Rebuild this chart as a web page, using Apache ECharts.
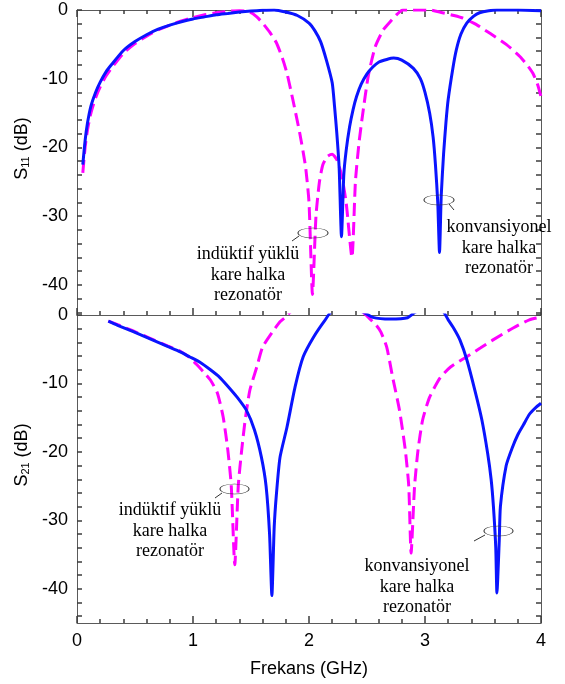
<!DOCTYPE html>
<html><head><meta charset="utf-8">
<script src="https://cdn.jsdelivr.net/npm/echarts@6/dist/echarts.min.js"></script>
<style>html,body{margin:0;padding:0;background:#fff}#c{width:565px;height:684px}</style>
</head><body><div id="c"></div>
<script>
// ---- S11 (top panel) ----
const s11ConvFreq = [0.05,0.07,0.09,0.12,0.16,0.2,0.25,0.3,0.4,0.5,0.6,0.7,0.8,0.9,1.0,1.1,1.2,1.3,1.4,1.5,1.6,1.7,1.8,1.9,2.0,2.05,2.1,2.15,2.2,2.22,2.24,2.26,2.28,2.3,2.32,2.35,2.38,2.41,2.45,2.5,2.55,2.6,2.67,2.73,2.8,2.9,2.96,3.0,3.04,3.07,3.09,3.11,3.125,3.14,3.16,3.18,3.2,3.24,3.27,3.31,3.36,3.42,3.47,3.55,3.62,3.8,4.0];
const s11Conv     = [-22.5,-19,-16.5,-14,-12,-10.5,-9,-7.9,-5.9,-4.6,-3.6,-2.8,-2.2,-1.7,-1.3,-1.0,-0.7,-0.5,-0.3,-0.15,-0.05,0,-0.3,-0.8,-1.9,-3,-4.6,-7.3,-10.6,-14,-18,-23,-33,-24,-20.5,-17,-14.5,-12.6,-10.8,-9.3,-8.3,-7.6,-7.2,-7.0,-7.3,-8.5,-10,-12,-15,-18.5,-22.5,-28,-35.3,-27,-21,-16.5,-13,-8.5,-5.8,-3.5,-1.9,-0.9,-0.4,-0.1,0,0,-0.1];
const s11IndFreq  = [0.05,0.07,0.09,0.12,0.16,0.2,0.25,0.3,0.4,0.5,0.6,0.7,0.8,0.9,1.0,1.1,1.2,1.3,1.4,1.49,1.55,1.6,1.66,1.72,1.77,1.81,1.86,1.92,1.97,2.0,2.03,2.06,2.09,2.12,2.16,2.2,2.24,2.28,2.32,2.37,2.4,2.43,2.46,2.51,2.57,2.64,2.7,2.76,2.81,3.04,3.15,3.25,3.33,3.45,3.56,3.7,3.82,3.88,3.93,3.97,4.0];
const s11Ind      = [-23.7,-20,-17.5,-15,-12.8,-11.2,-9.6,-8.4,-6.3,-4.9,-3.8,-2.9,-2.2,-1.6,-1.1,-0.7,-0.4,-0.2,-0.1,-0.3,-1,-1.9,-3.2,-4.8,-7,-9.2,-13,-17.9,-22.8,-28,-41.4,-30,-25,-22.5,-21.3,-21,-21.8,-24,-28,-36,-25,-19.5,-15.5,-9.7,-5.4,-2.9,-1.7,-0.6,0,0,-0.4,-0.8,-1.2,-2.2,-3.4,-5.0,-6.8,-8,-9.2,-10.8,-12.6];
// ---- S21 (bottom panel) ----
const s21ConvFreq = [0.27,0.35,0.48,0.63,0.78,0.89,0.97,1.06,1.15,1.23,1.3,1.38,1.46,1.53,1.59,1.63,1.66,1.68,1.7,1.72,1.75,1.81,1.88,1.95,2.04,2.14,2.2,2.45,2.55,2.7,2.85,2.93,3.15,3.2,3.25,3.3,3.36,3.43,3.49,3.54,3.57,3.59,3.61,3.62,3.64,3.65,3.7,3.75,3.8,3.85,3.9,3.95,4.0];
const s21Conv     = [-0.9,-1.5,-2.4,-3.5,-4.6,-5.4,-6.1,-6.9,-8,-9.1,-10.4,-12,-13.9,-16.8,-20.8,-25,-32,-41,-31,-26,-20.8,-16.4,-10.5,-6.1,-3.2,-0.7,0.5,0.5,-0.35,-0.6,-0.4,0.5,0.5,-0.7,-2,-3.6,-6.5,-11,-15.3,-20.2,-24,-28,-34,-40.6,-33,-28,-22,-19.5,-17.5,-16,-14.5,-13.6,-12.9];
const s21IndFreq  = [0.27,0.35,0.48,0.63,0.78,0.89,0.97,1.03,1.09,1.15,1.21,1.26,1.3,1.33,1.36,1.39,1.42,1.45,1.49,1.55,1.6,1.68,1.75,1.8,1.85,2.45,2.52,2.58,2.62,2.67,2.72,2.78,2.83,2.86,2.88,2.91,2.94,2.98,3.04,3.13,3.22,3.36,3.48,3.59,3.76,3.9,4.0];
const s21Ind      = [-0.9,-1.4,-2.3,-3.4,-4.5,-5.3,-6.2,-7.2,-8.3,-9.5,-11.4,-14.9,-19.7,-25,-36.5,-25,-19.7,-15.3,-11,-7.6,-4.7,-2.6,-1,-0.3,0.5,0.5,-0.5,-1.5,-2.5,-4.7,-9,-13.9,-19.7,-25,-34.8,-25,-19.7,-15.3,-12,-9.2,-7.6,-6.1,-4.8,-3.6,-1.9,-0.7,-0.3];
// ---- ticks / labels ----
const xTickValues = [0,1,2,3,4];
const yTickValues = [0,-2,-4,-6,-8,-10,-12,-14,-16,-18,-20,-22,-24,-26,-28,-30,-32,-34,-36,-38,-40,-42,-44];
const yLabelValues = [0,-10,-20,-30,-40];
const annotInd = 'indüktif yüklü\nkare halka\nrezonatör';
const annotConv = 'konvansiyonel\nkare halka\nrezonatör';

const zip = (a,b) => a.map((v,i)=>[v,b[i]]);
const axisColor = '#5a5a5a';
const tickColor = '#3c3c3c';
const sans = 'Liberation Sans';

function xAx(grid, pos, labels, name){
  const ticks = (pos==='bottom') || (grid===0);
  return {
    type:'value', gridIndex:grid, position:pos, min:0, max:4, interval:1,
    axisLine:{show:true,onZero:false,lineStyle:{color:axisColor,width:1}},
    axisTick:{show:ticks,inside:true,length:7,lineStyle:{color:tickColor,width:1.5}},
    minorTick:{show:ticks,splitNumber:5,length:4,lineStyle:{color:tickColor,width:1.5}},
    axisLabel:{show:labels,color:'#000',fontFamily:sans,fontSize:18,margin:9,customValues:xTickValues},
    splitLine:{show:false},
    name:name||'', nameLocation:'middle', nameGap:37,
    nameTextStyle:{color:'#000',fontFamily:sans,fontSize:18}
  };
}
function yAx(grid, pos, min, labels, nameRich){
  return {
    type:'value', gridIndex:grid, position:pos, min:min, max:0,
    axisLine:{show:true,onZero:false,lineStyle:{color:axisColor,width:1}},
    axisTick:{show:true,inside:true,length:5,customValues:yTickValues,lineStyle:{color:tickColor,width:1.5}},
    axisLabel:{show:labels,color:'#000',fontFamily:sans,fontSize:18,margin:9,customValues:yLabelValues},
    splitLine:{show:false},
    name:nameRich||'', nameLocation:'middle', nameGap:40,
    nameTextStyle:{color:'#000',fontFamily:sans,fontSize:18,padding:[0,0,0,28],
      rich:{a:{fontFamily:sans,fontSize:18,lineHeight:24,verticalAlign:'bottom'},
            b:{fontFamily:sans,fontSize:11,lineHeight:10,verticalAlign:'bottom'}}}
  };
}

function lineSeries(name, data, xi, yi, color, dashed){
  return {
    type:'line', name, data, xAxisIndex:xi, yAxisIndex:yi, showSymbol:false, symbol:'none',
    smooth:0.2, clip:true, animation:false,
    lineStyle:{color, width:3, type: dashed ? [13,6] : 'solid'}
  };
}

function ellipse(x,y,rx,ry){
  return {type:'circle', x:x, y:y, scaleY:ry/rx, shape:{cx:0,cy:0,r:rx},
    style:{fill:null, stroke:'#333', lineWidth:1.1}, z:100};
}
function leader(x1,y1,x2,y2){
  return {type:'line', shape:{x1,y1,x2,y2}, style:{stroke:'#333',lineWidth:1}, z:100};
}
function note(x,y,txt){
  return {type:'text', x:x, y:y, z:100,
    style:{text:txt, fill:'#000', font:'18px "Liberation Serif"', align:'center', verticalAlign:'middle', lineHeight:20.5}};
}

const chart = echarts.init(document.getElementById('c'), null, {renderer:'canvas'});
chart.setOption({
  animation:false,
  backgroundColor:'#fff',
  grid:[
    {left:77, right:24, top:10, height:305},
    {left:77, right:24, top:315, height:308}
  ],
  xAxis:[ xAx(0,'bottom',false), xAx(0,'top',false), xAx(1,'bottom',true,'Frekans (GHz)'), xAx(1,'top',false) ],
  yAxis:[ yAx(0,'left',-44.4,true,'{a|S}{b|11}{a| (dB)}'), yAx(0,'right',-44.4,false),
          yAx(1,'left',-45,true,'{a|S}{b|21}{a| (dB)}'), yAx(1,'right',-45,false) ],
  series:[
    lineSeries('S11 ind', zip(s11IndFreq,s11Ind), 0, 0, '#ff00ff', true),
    lineSeries('S11 conv', zip(s11ConvFreq,s11Conv), 0, 0, '#0a14ff', false),
    lineSeries('S21 ind', zip(s21IndFreq,s21Ind), 2, 2, '#ff00ff', true),
    lineSeries('S21 conv', zip(s21ConvFreq,s21Conv), 2, 2, '#0a14ff', false)
  ],
  graphic:[
    ellipse(313,233,15,5), leader(299,236,292,241), note(248,275,annotInd),
    ellipse(439,200,15,5), leader(449,204,454,210), note(499,248,annotConv),
    ellipse(234.5,489,14.5,5), leader(222,493,215,498), note(170,531,annotInd),
    ellipse(498.5,531,14.5,5), leader(485,535,474,541), note(417,587,annotConv)
  ]
});
</script></body></html>
